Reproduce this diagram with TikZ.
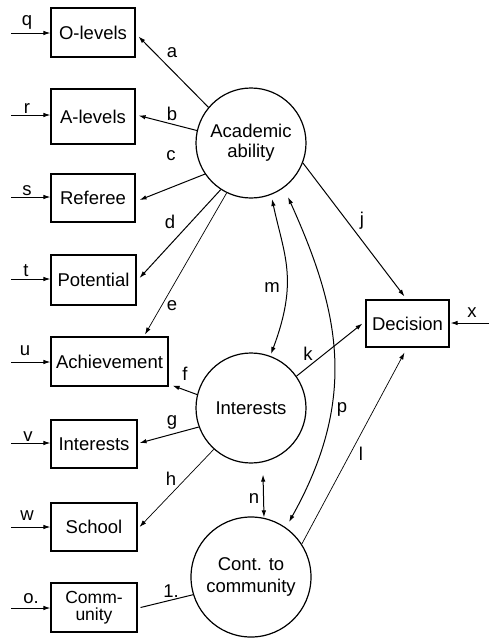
\documentclass[tikz,border=0pt]{standalone}
\usepackage{fontspec}
\setmainfont{Liberation Sans}
\usetikzlibrary{arrows.meta,calc}
\begin{document}
\begin{tikzpicture}[x=1pt,y=-1pt,
  font=\fontsize{18.5}{20}\selectfont,
  box/.style={draw,line width=1.1pt,inner sep=0pt,minimum height=48pt},
  circ/.style={draw,circle,line width=1.2pt,inner sep=0pt,align=center},
  arr/.style={line width=1pt,-{Latex[length=7pt,width=4.5pt]}},
  thinarr/.style={arr,line width=0.7pt},
  lab/.style={anchor=base,inner sep=0pt},
  dbl/.style={line width=1pt,{Latex[length=7pt,width=4.5pt]}-{Latex[length=7pt,width=4.5pt]}}
]
\useasboundingbox (0,0) rectangle (491,638);

% boxes
\node[box,minimum width=84pt,minimum height=49pt] (olev) at (93,32.5) {O-levels};
\node[box,minimum width=84pt,minimum height=55pt] (alev) at (93,116.5) {A-levels};
\node[box,minimum width=84pt] (ref) at (93,198) {Referee};
\node[box,minimum width=85pt,minimum height=50pt] (pot) at (93.5,280) {Potential};
\node[box,minimum width=117pt,minimum height=49pt] (ach) at (109.5,361.5) {Achievement};
\node[box,minimum width=86pt] (intb) at (94,444) {Interests};
\node[box,minimum width=86pt] (sch) at (94,527) {School};
\node[box,minimum width=86pt,minimum height=49pt,align=center,font=\fontsize{17.5}{17.5}\selectfont] (com) at (94,607.5) {Comm-\\unity};
\node[box,minimum width=83pt,minimum height=47pt] (dec) at (407.5,323.5) {Decision};

% circles
\node[circ,minimum size=110pt] (acad) at (251,143) {Academic\\ability};
\node[circ,minimum size=110pt] (intc) at (251,408) {Interests};
\node[circ,minimum size=120pt,font=\fontsize{18.5}{21.5}\selectfont] (cont) at (251,577) {Cont. to\\community};

% free ends of error arrows
\coordinate (qs) at (11,33);
\coordinate (rs) at (11,115);
\coordinate (ss) at (11,197);
\coordinate (ts) at (11,279);
\coordinate (us) at (11,362);
\coordinate (vs) at (11,443);
\coordinate (ws) at (11,527);
\coordinate (os) at (11,608);
\coordinate (xs) at (489,323);

\draw[arr] (qs) -- (qs -| olev.west);
\draw[arr] (rs) -- (rs -| alev.west);
\draw[arr] (ss) -- (ss -| ref.west);
\draw[arr] (ts) -- (ts -| pot.west);
\draw[arr] (us) -- (us -| ach.west);
\draw[arr] (vs) -- (vs -| intb.west);
\draw[arr] (ws) -- (ws -| sch.west);
\draw[arr] (os) -- (os -| com.west);
\draw[arr] (xs) -- ($(xs -| dec.east)+(1,0)$);

\node[lab] (lq) at (27,25) {q};
\node[lab] (lr) at (27,113) {r};
\node[lab] (ls) at (27,195) {s};
\node[lab] (lt) at (26,276) {t};
\node[lab] (lu) at (25,355) {u};
\node[lab] (lv) at (28,441) {v};
\node[lab] (lw) at (27,520) {w};
\node[lab] (lo) at (31,603) {o.};
\node[lab] (lx) at (472,317) {x};

% connectors
\draw[arr] (acad.140) -- ($(olev.east)+(3,4)$);
\draw[arr] (acad.167) -- ($(alev.east)+(3,-1)$);
\draw[arr] (acad.214) -- ($(ref.east)+(4,2)$);
\draw[arr] (acad.237) -- ($(pot.east)+(3,-2)$);
\draw[thinarr] (acad.244) -- ($(ach.north)+(35.5,-2)$);
\draw[arr] (intc.166) -- ($(ach.south east)+(4,-1)$);
\draw[arr] (intc.200) -- ($(intb.east)+(2,-1)$);
\draw[thinarr] (intc.228) -- ($(sch.east)+(2,0)$);
\draw[arr] (acad.-21) -- ($(dec.north)+(-3,-3)$);
\draw[arr] (intc.35) -- ($(dec.west)+(-3,0)$);
\draw[thinarr] (cont.33) -- ($(dec.south)+(-3,5)$);
\draw[dbl] ($(intc.south)+(12,11)$) -- ($(cont.north)+(13,1)$);
\draw[line width=1pt] ($(com.east)+(3,0)$) -- (cont.197);
\draw[dbl] ($(acad)+(21,56)$) .. controls (284.2,255.7) and (298.7,280) .. ($(intc)+(20,-54)$);
\draw[dbl] ($(acad)+(37,54)$) .. controls (339,310) and (359,397) .. ($(cont)+(38,-55)$);

\node[lab] (la) at (172,57) {a};
\node[lab] (lb) at (172,120) {b};
\node[lab] (lc) at (171,160) {c};
\node[lab] (ld) at (170,228) {d};
\node[lab] (le) at (172,310) {e};
\node[lab] (lf) at (185,380) {f};
\node[lab] (lg) at (172,425) {g};
\node[lab] (lh) at (171,485) {h};
\node[lab] (lj) at (362,225) {j};
\node[lab] (lk) at (308,360) {k};
\node[lab] (lm) at (272,292) {m};
\node[lab] (lp) at (342,412) {p};
\node[lab] (ll) at (361,460) {l};
\node[lab] (ln) at (254,503) {n};
\node[lab] (l1) at (171,597) {1.};
\end{tikzpicture}
\end{document}
